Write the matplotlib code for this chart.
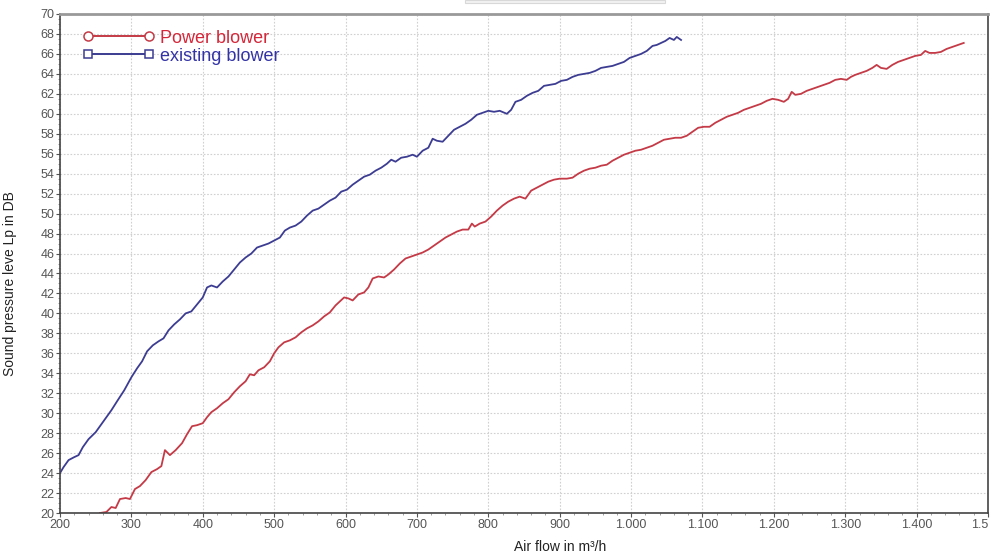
import matplotlib
matplotlib.use("Agg")
import matplotlib.pyplot as plt
from matplotlib.lines import Line2D
from matplotlib.patches import Rectangle
from matplotlib.ticker import MultipleLocator, FixedLocator

plt.rcParams['font.family'] = ['Liberation Sans', 'DejaVu Sans']

existing_x = [200, 205, 212, 220, 226, 232, 240, 250, 258, 265, 272, 280, 290, 300, 308, 315, 322, 330, 338, 345,
              352, 360, 368, 376, 384, 392, 400, 406, 412, 420, 428, 436, 444, 452, 460, 468, 476, 484, 492, 500,
              508, 515, 522, 530, 538, 546, 554, 562, 570, 578, 586, 594, 602, 610, 618, 626, 634, 642, 650, 658,
              664, 670, 678, 686, 694, 700, 708, 716, 722, 728, 736, 744, 752, 760, 768, 776, 784, 792, 800, 808,
              816, 826, 832, 838, 846, 854, 862, 870, 878, 886, 894, 902, 910, 918, 926, 934, 942, 950, 958, 966,
              974, 982, 990, 998, 1006, 1014, 1022, 1030, 1036, 1042, 1048, 1054, 1060, 1064, 1070]
existing_y = [24.0, 24.6, 25.3, 25.6, 25.8, 26.6, 27.4, 28.1, 28.9, 29.6, 30.3, 31.2, 32.3, 33.6, 34.5, 35.2, 36.2, 36.8, 37.2, 37.5,
              38.3, 38.9, 39.4, 40.0, 40.2, 40.9, 41.6, 42.6, 42.8, 42.6, 43.2, 43.7, 44.4, 45.1, 45.6, 46.0, 46.6, 46.8, 47.0, 47.3,
              47.6, 48.3, 48.6, 48.8, 49.2, 49.8, 50.3, 50.5, 50.9, 51.3, 51.6, 52.2, 52.4, 52.9, 53.3, 53.7, 53.9, 54.3, 54.6, 55.0,
              55.4, 55.2, 55.6, 55.7, 55.9, 55.7, 56.3, 56.6, 57.5, 57.3, 57.2, 57.8, 58.4, 58.7, 59.0, 59.4, 59.9, 60.1, 60.3, 60.2,
              60.3, 60.0, 60.4, 61.2, 61.4, 61.8, 62.1, 62.3, 62.8, 62.9, 63.0, 63.3, 63.4, 63.7, 63.9, 64.0, 64.1, 64.3, 64.6, 64.7,
              64.8, 65.0, 65.2, 65.6, 65.8, 66.0, 66.3, 66.8, 66.9, 67.1, 67.3, 67.6, 67.4, 67.7, 67.4]

power_x = [256, 265, 272, 278, 284, 292, 298, 305, 312, 320, 328, 336, 342, 347, 354, 362, 371, 378, 385, 392,
           400, 406, 412, 420, 428, 436, 444, 452, 460, 466, 472, 478, 486, 494, 500, 506, 514, 522, 530, 538,
           546, 554, 562, 570, 578, 586, 592, 598, 604, 610, 618, 626, 632, 638, 646, 654, 660, 668, 676, 684,
           692, 700, 708, 716, 724, 732, 740, 748, 756, 764, 772, 777, 781, 788, 796, 804, 812, 820, 828, 836,
           844, 852, 860, 868, 876, 884, 892, 900, 910, 918, 926, 934, 942, 950, 958, 966, 974, 982, 990, 998,
           1006, 1014, 1022, 1030, 1038, 1046, 1054, 1062, 1070, 1078, 1086, 1094, 1102, 1110, 1118, 1126, 1134, 1142, 1150, 1158,
           1166, 1174, 1182, 1190, 1198, 1206, 1214, 1220, 1225, 1230, 1238, 1246, 1254, 1262, 1270, 1278, 1286, 1294, 1302, 1308,
           1314, 1322, 1330, 1338, 1344, 1350, 1358, 1366, 1374, 1382, 1390, 1398, 1406, 1412, 1418, 1426, 1434, 1442, 1450, 1458, 1466]
power_y = [20.0, 20.1, 20.6, 20.5, 21.4, 21.5, 21.4, 22.4, 22.7, 23.3, 24.1, 24.4, 24.7, 26.3, 25.8, 26.3, 27.0, 27.9, 28.7, 28.8,
           29.0, 29.6, 30.1, 30.5, 31.0, 31.4, 32.1, 32.7, 33.2, 33.9, 33.8, 34.3, 34.6, 35.2, 36.0, 36.6, 37.1, 37.3, 37.6, 38.1,
           38.5, 38.8, 39.2, 39.7, 40.1, 40.8, 41.2, 41.6, 41.5, 41.3, 41.9, 42.1, 42.6, 43.5, 43.7, 43.6, 43.9, 44.4, 45.0, 45.5,
           45.7, 45.9, 46.1, 46.4, 46.8, 47.2, 47.6, 47.9, 48.2, 48.4, 48.4, 49.0, 48.7, 49.0, 49.2, 49.7, 50.3, 50.8, 51.2, 51.5,
           51.7, 51.5, 52.3, 52.6, 52.9, 53.2, 53.4, 53.5, 53.5, 53.6, 54.0, 54.3, 54.5, 54.6, 54.8, 54.9, 55.3, 55.6, 55.9, 56.1,
           56.3, 56.4, 56.6, 56.8, 57.1, 57.4, 57.5, 57.6, 57.6, 57.8, 58.2, 58.6, 58.7, 58.7, 59.1, 59.4, 59.7, 59.9, 60.1, 60.4,
           60.6, 60.8, 61.0, 61.3, 61.5, 61.4, 61.2, 61.5, 62.2, 61.9, 62.0, 62.3, 62.5, 62.7, 62.9, 63.1, 63.4, 63.5, 63.4, 63.7,
           63.9, 64.1, 64.3, 64.6, 64.9, 64.6, 64.5, 64.9, 65.2, 65.4, 65.6, 65.8, 65.9, 66.3, 66.1, 66.1, 66.2, 66.5, 66.7, 66.9, 67.1]

x_ticks = [200, 300, 400, 500, 600, 700, 800, 900, 1000, 1100, 1200, 1300, 1400, 1500]
x_labels = ["200", "300", "400", "500", "600", "700", "800", "900", "1.000", "1.100", "1.200", "1.300", "1.400", "1.5"]
y_ticks = list(range(20, 71, 2))

red = "#c43a46"
blue = "#3c3c92"

fig = plt.figure(figsize=(9.96, 5.56), dpi=100)
ax = fig.add_axes([60 / 996, 1 - 513 / 556, 928 / 996, 499 / 556])

ax.plot(power_x, power_y, color=red, lw=1.3, solid_joinstyle='round')
ax.plot(existing_x, existing_y, color=blue, lw=1.3, solid_joinstyle='round')

ax.set_xlim(200, 1500)
ax.set_ylim(20, 70)
ax.xaxis.set_major_locator(FixedLocator(x_ticks))
ax.set_xticklabels(x_labels)
ax.yaxis.set_major_locator(FixedLocator(y_ticks))
ax.xaxis.set_minor_locator(MultipleLocator(20))
ax.yaxis.set_minor_locator(MultipleLocator(0.5))

ax.grid(True, which='major', color='#d0d0d0', linestyle=(0, (1.5, 1.5)), lw=0.8)
ax.tick_params(axis='both', which='major', labelsize=9, labelcolor='#555555', color='#555555',
               length=3, width=0.8, direction='out', pad=1)
ax.tick_params(axis='both', which='minor', length=1.5, width=0.5, color='#777777', direction='out')

for lab in ax.get_xticklabels():
    lab.set_horizontalalignment('center')
ax.get_xticklabels()[-1].set_horizontalalignment('right')

for side in ['left', 'bottom', 'right']:
    ax.spines[side].set_color('#444444')
    ax.spines[side].set_linewidth(1.2)
ax.spines['top'].set_color('#999999')
ax.spines['top'].set_linewidth(2.0)

ax.set_xlabel("Air flow in m³/h", fontsize=10, color='#222222')
ax.xaxis.set_label_coords((560 - 60) / 928, -0.055)
ax.set_ylabel("Sound pressure leve Lp in DB", fontsize=10, color='#222222')
ax.yaxis.set_label_coords(-0.046, 0.46)

h_power = Line2D([], [], color=red, lw=1.4, marker='o', markersize=6.5, markerfacecolor='white',
                 markeredgecolor=red, markeredgewidth=1.1)
h_exist = Line2D([], [], color=blue, lw=1.4, marker='s', markersize=5.5, markerfacecolor='white',
                 markeredgecolor=blue, markeredgewidth=1.1)
leg = ax.legend([h_power, h_exist], ["Power blower", "existing blower"], loc='upper left',
                bbox_to_anchor=(0.011, 0.994), frameon=False, numpoints=2, fontsize=13,
                handlelength=3.95, handletextpad=0.35, labelspacing=0.05, borderaxespad=0.3)
leg.get_texts()[0].set_color('#d4283a')
leg.get_texts()[1].set_color('#3333a6')

fig.patches.append(Rectangle((465 / 996, 1 - 3 / 556), 200 / 996, 3 / 556, transform=fig.transFigure,
                             facecolor='#f2f2f2', edgecolor='#d8d8d8', lw=0.8))

fig.savefig("out.png", dpi=100)
